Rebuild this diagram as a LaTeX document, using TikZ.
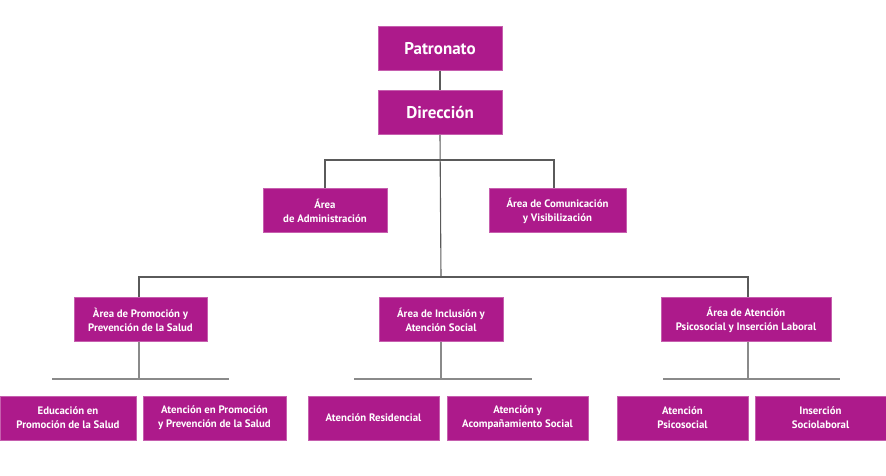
\documentclass[tikz,border=0pt]{standalone}
\usepackage{fontspec}
\setmainfont{PT Sans}
\definecolor{magenta}{HTML}{AD1A8B}
\definecolor{lineagris}{HTML}{5A5A5A}
\definecolor{barragris}{HTML}{8A8A8A}
\tikzset{
  caja/.style={fill=magenta, draw=magenta!70!white, line width=0.6pt, text=white,
    font=\bfseries\fontsize{10.8}{14}\selectfont, align=center,
    minimum height=44pt, inner sep=0pt},
  cajagrande/.style={caja, font=\bfseries\fontsize{17}{20}\selectfont},
  linea/.style={draw=lineagris, line width=1.1pt},
  barra/.style={draw=barragris, line width=1.8pt},
}
\begin{document}
\begin{tikzpicture}[x=1pt,y=-1pt]
  \useasboundingbox (0,0) rectangle (886,475);
  % direccion
  \node[cajagrande, minimum width=124pt] (patronato) at (440,48.5) {Patronato};
  \node[cajagrande, minimum width=124pt] (direccion) at (440,112.5) {Dirección};
  \node[caja, minimum width=124pt] (admin) at (325,210.5) {Área\\de Administración};
  \node[caja, minimum width=137pt] (comunic) at (557.5,210.5) {Área de Comunicación\\y Visibilización};
  % areas
  \node[caja, minimum width=133pt] (promocion) at (140.5,319.5) {Àrea de Promoción y\\Prevención de la Salud};
  \node[caja, minimum width=124pt] (inclusion) at (441,319.5) {Área de Inclusión y\\Atención Social};
  \node[caja, minimum width=170pt] (psico) at (746,319.5) {Área de Atención\\Psicosocial y Inserción Laboral};
  % servicios
  \node[caja, minimum width=136pt] (educacion) at (68,418) {Educación en\\Promoción de la Salud};
  \node[caja, minimum width=143pt] (atpromo) at (214.5,418) {Atención en Promoción\\y Prevención de la Salud};
  \node[caja, minimum width=131pt] (residencial) at (373.5,418) {Atención Residencial};
  \node[caja, minimum width=141pt] (acompan) at (517.5,418) {Atención y\\Acompañamiento Social};
  \node[caja, minimum width=131pt] (atpsico) at (682.5,418) {Atención\\Psicosocial};
  \node[caja, minimum width=131pt] (sociolab) at (820.5,418) {Inserción\\Sociolaboral};

  \coordinate (ramaA) at (441,160);
  \coordinate (ramaB) at (441,277);
  \coordinate (barra1a) at (52,379);
  \coordinate (barra1b) at (229,379);
  \coordinate (barra2a) at (354,379);
  \coordinate (barra2b) at (532,379);
  \coordinate (barra3a) at (663,379);
  \coordinate (barra3b) at (840,379);

  \draw[linea] (patronato) -- (direccion);
  \draw[linea] (direccion.south) -- (ramaB);
  \draw[linea] (admin.north) |- (ramaA) -| ([xshift=-3.5pt]comunic.north);
  \draw[linea] ([xshift=-1.5pt]promocion.north) |- (ramaB) -| ([xshift=2pt]psico.north);

  \draw[barra] (barra1a) -- (barra1b);
  \draw[barra] (barra2a) -- (barra2b);
  \draw[barra] (barra3a) -- (barra3b);
  \draw[barra] ([xshift=-1.5pt]promocion.south) -- ([xshift=-1.5pt]promocion.south |- barra1a);
  \draw[barra] (inclusion.south) -- (inclusion.south |- barra2a);
  \draw[barra] ([xshift=2pt]psico.south) -- ([xshift=2pt]psico.south |- barra3a);
\end{tikzpicture}
\end{document}
